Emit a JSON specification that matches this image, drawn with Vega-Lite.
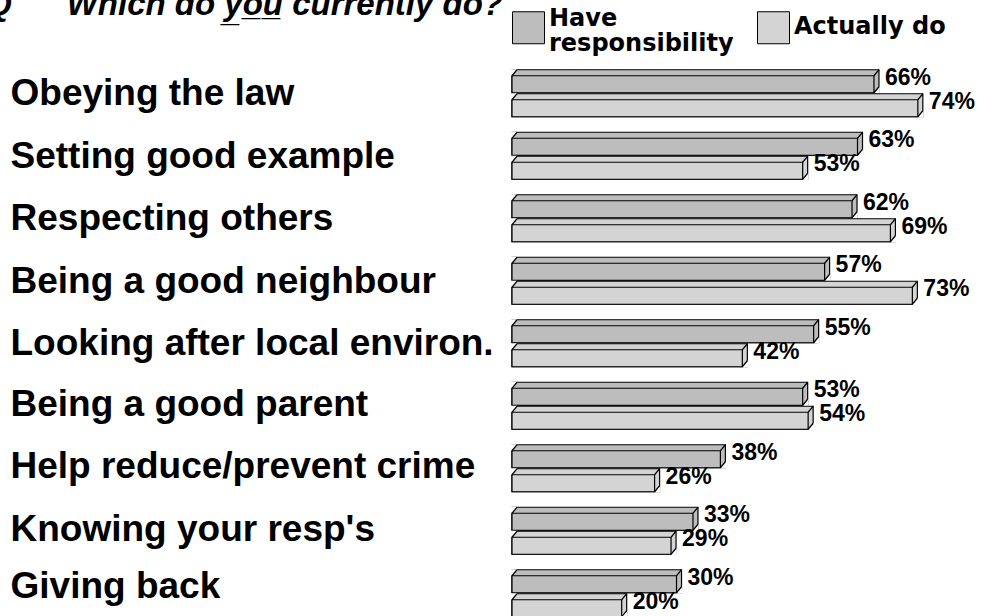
{
  "$schema": "https://vega.github.io/schema/vega-lite/v6.json",
  "width": 470,
  "height": 551,
  "autosize": {"type": "none"},
  "padding": {"left": 512, "top": 65, "right": 0, "bottom": 0},
  "background": "white",
  "config": {"view": {"stroke": null}},
  "title": {
    "text": "Q\u00a0\u00a0\u00a0\u00a0\u00a0\u00a0Which do y\u0332o\u0332u\u0332 currently do?",
    "orient": "none",
    "anchor": "start",
    "frame": "group",
    "font": "Liberation Sans",
    "fontSize": 33,
    "fontStyle": "italic",
    "fontWeight": "bold",
    "color": "black",
    "baseline": "alphabetic",
    "align": "left",
    "offset": 0,
    "dx": -526,
    "dy": -50
  },
  "data": {
    "values": [
      {"category": "Obeying the law", "series": "Have responsibility", "value": 0.66},
      {"category": "Obeying the law", "series": "Actually do", "value": 0.74},
      {"category": "Setting good example", "series": "Have responsibility", "value": 0.63},
      {"category": "Setting good example", "series": "Actually do", "value": 0.53},
      {"category": "Respecting others", "series": "Have responsibility", "value": 0.62},
      {"category": "Respecting others", "series": "Actually do", "value": 0.69},
      {"category": "Being a good neighbour", "series": "Have responsibility", "value": 0.57},
      {"category": "Being a good neighbour", "series": "Actually do", "value": 0.73},
      {"category": "Looking after local environ.", "series": "Have responsibility", "value": 0.55},
      {"category": "Looking after local environ.", "series": "Actually do", "value": 0.42},
      {"category": "Being a good parent", "series": "Have responsibility", "value": 0.53},
      {"category": "Being a good parent", "series": "Actually do", "value": 0.54},
      {"category": "Help reduce/prevent crime", "series": "Have responsibility", "value": 0.38},
      {"category": "Help reduce/prevent crime", "series": "Actually do", "value": 0.26},
      {"category": "Knowing your resp's", "series": "Have responsibility", "value": 0.33},
      {"category": "Knowing your resp's", "series": "Actually do", "value": 0.29},
      {"category": "Giving back", "series": "Have responsibility", "value": 0.30},
      {"category": "Giving back", "series": "Actually do", "value": 0.20}
    ]
  },
  "encoding": {
    "y": {
      "field": "category",
      "type": "nominal",
      "sort": ["Obeying the law", "Setting good example", "Respecting others", "Being a good neighbour", "Looking after local environ.", "Being a good parent", "Help reduce/prevent crime", "Knowing your resp's", "Giving back"],
      "scale": {"range": [0, 562.5], "paddingInner": 0, "paddingOuter": 0},
      "axis": {
        "title": null,
        "domain": false,
        "ticks": false,
        "tickSize": 0,
        "labelAlign": "left",
        "labelBaseline": "middle",
        "labelPadding": 502,
        "labelLimit": 600,
        "labelFont": "Liberation Sans",
        "labelFontWeight": "bold",
        "labelFontSize": 37,
        "labelColor": "black",
        "labelOffset": {
          "condition": [
            {"test": "datum.value == 'Giving back'", "value": -9},
            {"test": "datum.value == 'Being a good parent' || datum.value == 'Help reduce/prevent crime' || datum.value == \"Knowing your resp's\"", "value": -4}
          ],
          "value": -2
        }
      }
    }
  },
  "layer": [
    {
      "transform": [{"filter": "datum.series == 'Have responsibility'"}],
      "layer": [
        {
          "mark": {"type": "bar", "height": 23, "yOffset": -15, "xOffset": 5, "stroke": "black", "strokeWidth": 1.2, "opacity": 1},
          "encoding": {
            "x": {"field": "value", "type": "quantitative", "scale": {"domain": [0, 0.857], "zero": true, "nice": false}, "axis": null},
            "x2": {"datum": 0},
            "color": {
              "field": "series",
              "type": "nominal",
              "scale": {"domain": ["Have responsibility", "Actually do"], "range": ["#bdbdbd", "#d4d4d4"]},
              "legend": {
                "orient": "none",
                "legendX": 0,
                "legendY": -54,
                "direction": "horizontal",
                "columns": 2,
                "title": null,
                "padding": 0,
                "symbolType": "square",
                "symbolSize": 1024,
                "symbolStrokeColor": "black",
                "symbolStrokeWidth": 1,
                "symbolOpacity": 1,
                "labelFont": "DejaVu Sans",
                "labelFontWeight": "bold",
                "labelFontSize": 24,
                "labelColor": "black",
                "labelOffset": 4,
                "labelLimit": 400,
                "columnPadding": 21,
                "labelExpr": "datum.label == 'Have responsibility' ? ['Have', 'responsibility'] : ['', datum.label, '', '']",
                "encode": {"labels": {"update": {"lineHeight": {"signal": "datum.value == 'Have responsibility' ? 25 : 8.333"}, "dy": {"value": -9}}}}
              }
            }
          }
        },
        {
          "mark": {"type": "point", "shape": "M-2,-8.5L-2,-15L5,-15L5,-14.5L0,-8.5Z", "size": 4, "filled": true, "fill": "white", "strokeWidth": 0, "opacity": 1, "yOffset": -12},
          "encoding": {"x": {"datum": 0, "type": "quantitative"}}
        },
        {
          "mark": {"type": "point", "shape": "M0,8.5L5,2.5L5.8,2.5L5.8,9.2L0,9.2Z", "size": 4, "filled": true, "fill": "white", "strokeWidth": 0, "opacity": 1, "yOffset": -12},
          "encoding": {"x": {"field": "value", "type": "quantitative"}}
        },
        {
          "mark": {"type": "bar", "height": 17, "yOffset": -12, "stroke": "black", "strokeWidth": 1.2, "opacity": 1},
          "encoding": {
            "x": {"field": "value", "type": "quantitative"},
            "x2": {"datum": 0},
            "color": {"field": "series", "type": "nominal"}
          }
        },
        {
          "mark": {"type": "point", "shape": "M0,-8.5L5,-14.5", "size": 4, "filled": false, "stroke": "black", "strokeWidth": 1.2, "opacity": 1, "yOffset": -12},
          "encoding": {"x": {"datum": 0, "type": "quantitative"}}
        },
        {
          "mark": {"type": "point", "shape": "M0,-8.5L5,-14.5M0,8.5L5,2.5", "size": 4, "filled": false, "stroke": "black", "strokeWidth": 1.2, "opacity": 1, "yOffset": -12},
          "encoding": {"x": {"field": "value", "type": "quantitative"}}
        },
        {
          "mark": {"type": "text", "align": "left", "baseline": "middle", "dx": 11, "yOffset": -18.5, "font": "Liberation Sans", "fontWeight": "bold", "fontSize": 23, "color": "black"},
          "encoding": {
            "x": {"field": "value", "type": "quantitative"},
            "text": {"field": "value", "type": "quantitative", "format": ".0%"}
          }
        }
      ]
    },
    {
      "transform": [{"filter": "datum.series == 'Actually do'"}],
      "layer": [
        {
          "mark": {"type": "bar", "height": 23, "yOffset": 9, "xOffset": 5, "stroke": "black", "strokeWidth": 1.2, "opacity": 1},
          "encoding": {
            "x": {"field": "value", "type": "quantitative"},
            "x2": {"datum": 0},
            "color": {"field": "series", "type": "nominal"}
          }
        },
        {
          "mark": {"type": "point", "shape": "M-2,-8.5L-2,-15L5,-15L5,-14.5L0,-8.5Z", "size": 4, "filled": true, "fill": "white", "strokeWidth": 0, "opacity": 1, "yOffset": 12},
          "encoding": {"x": {"datum": 0, "type": "quantitative"}}
        },
        {
          "mark": {"type": "point", "shape": "M0,8.5L5,2.5L5.8,2.5L5.8,9.2L0,9.2Z", "size": 4, "filled": true, "fill": "white", "strokeWidth": 0, "opacity": 1, "yOffset": 12},
          "encoding": {"x": {"field": "value", "type": "quantitative"}}
        },
        {
          "mark": {"type": "bar", "height": 17, "yOffset": 12, "stroke": "black", "strokeWidth": 1.2, "opacity": 1},
          "encoding": {
            "x": {"field": "value", "type": "quantitative"},
            "x2": {"datum": 0},
            "color": {"field": "series", "type": "nominal"}
          }
        },
        {
          "mark": {"type": "point", "shape": "M0,-8.5L5,-14.5", "size": 4, "filled": false, "stroke": "black", "strokeWidth": 1.2, "opacity": 1, "yOffset": 12},
          "encoding": {"x": {"datum": 0, "type": "quantitative"}}
        },
        {
          "mark": {"type": "point", "shape": "M0,-8.5L5,-14.5M0,8.5L5,2.5", "size": 4, "filled": false, "stroke": "black", "strokeWidth": 1.2, "opacity": 1, "yOffset": 12},
          "encoding": {"x": {"field": "value", "type": "quantitative"}}
        },
        {
          "mark": {"type": "text", "align": "left", "baseline": "middle", "dx": 11, "yOffset": 5.5, "font": "Liberation Sans", "fontWeight": "bold", "fontSize": 23, "color": "black"},
          "encoding": {
            "x": {"field": "value", "type": "quantitative"},
            "text": {"field": "value", "type": "quantitative", "format": ".0%"}
          }
        }
      ]
    }
  ]
}
